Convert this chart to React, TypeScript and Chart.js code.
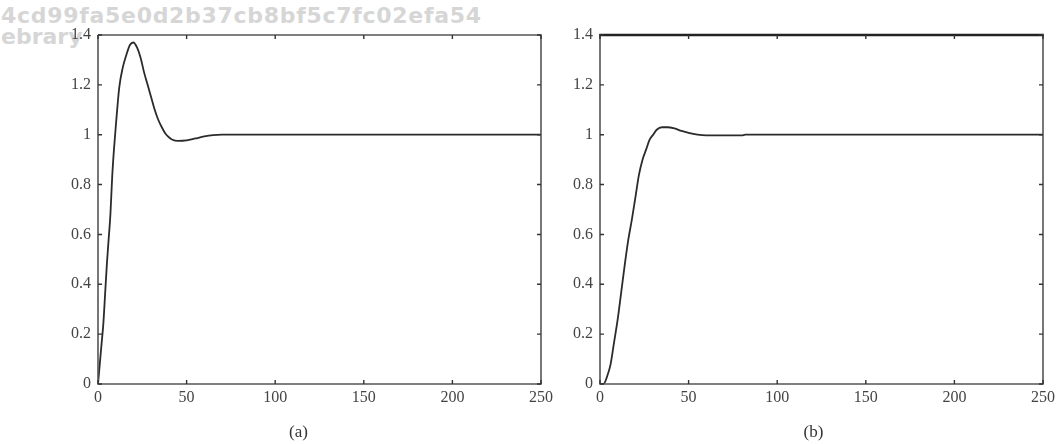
import React, { useEffect, useRef } from "react";
import { Chart, registerables } from "chart.js";

Chart.register(...registerables);

// ---- Data ----
const tA = [0, 1, 2, 3, 4, 5, 6, 7, 8, 9, 10, 12, 14, 16, 18, 20, 22, 24, 26, 28, 30, 32, 34, 36, 38, 40, 42, 45, 50, 55, 60, 65, 70, 250];
const yA = [0, 0.08, 0.16, 0.24, 0.36, 0.48, 0.58, 0.68, 0.83, 0.94, 1.03, 1.19, 1.27, 1.32, 1.36, 1.37, 1.35, 1.31, 1.25, 1.2, 1.15, 1.1, 1.06, 1.03, 1.005, 0.99, 0.98, 0.975, 0.977, 0.985, 0.993, 0.998, 1.0, 1.0];

const tB = [0, 2, 4, 6, 8, 10, 12, 14, 16, 18, 20, 22, 24, 26, 28, 30, 32, 35, 38, 42, 46, 50, 55, 60, 70, 80, 82, 250];
const yB = [0, 0, 0.03, 0.08, 0.17, 0.26, 0.37, 0.48, 0.58, 0.66, 0.75, 0.84, 0.9, 0.94, 0.98, 1.0, 1.02, 1.03, 1.03, 1.025, 1.015, 1.007, 1.0, 0.997, 0.997, 0.997, 1.0, 1.0];

const xTicks = [0, 50, 100, 150, 200, 250];
const xTickLabels = ["0", "50", "100", "150", "200", "250"];
const yTicks = [0, 0.2, 0.4, 0.6, 0.8, 1, 1.2, 1.4];
const yTickLabels = ["0", "0.2", "0.4", "0.6", "0.8", "1", "1.2", "1.4"];

const captions = ["(a)", "(b)"];
const watermark = ["4cd99fa5e0d2b37cb8bf5c7fc02efa54", "ebrary"];

const SERIF = '"Liberation Serif", "Times New Roman", serif';

type PanelProps = {
  t: number[];
  y: number[];
  caption: string;
  captionShift: number;
  left: number;
  width: number;
  axisWidth: number;
  rightPad: number;
  thickTop: boolean;
};

function Panel({ t, y, caption, captionShift, left, width, axisWidth, rightPad, thickTop }: PanelProps) {
  const ref = useRef<HTMLCanvasElement | null>(null);
  useEffect(() => {
    if (!ref.current) return;
    const boxPlugin = {
      id: "boxTicks",
      afterDraw(chart: any) {
        const { ctx, chartArea } = chart;
        const { left: l, right: r, top: tp, bottom: b } = chartArea;
        const xs = chart.scales.x;
        const ys = chart.scales.y;
        ctx.save();
        ctx.strokeStyle = "#555";
        ctx.lineWidth = 1.6;
        ctx.beginPath();
        ctx.moveTo(l, tp);
        ctx.lineTo(l, b);
        ctx.lineTo(r, b);
        ctx.lineTo(r, tp);
        if (!thickTop) ctx.lineTo(l, tp);
        ctx.stroke();
        if (thickTop) {
          ctx.strokeStyle = "#222";
          ctx.lineWidth = 2.6;
          ctx.beginPath();
          ctx.moveTo(l - 0.8, tp);
          ctx.lineTo(r + 0.8, tp);
          ctx.stroke();
        }
        ctx.strokeStyle = "#333";
        ctx.lineWidth = 1.4;
        const tl = 4;
        ctx.beginPath();
        xTicks.forEach((v) => {
          const px = xs.getPixelForValue(v);
          ctx.moveTo(px, b);
          ctx.lineTo(px, b - tl);
          ctx.moveTo(px, tp);
          ctx.lineTo(px, tp + tl);
        });
        yTicks.forEach((v) => {
          const py = ys.getPixelForValue(v);
          ctx.moveTo(l, py);
          ctx.lineTo(l + tl, py);
          ctx.moveTo(r, py);
          ctx.lineTo(r - tl, py);
        });
        ctx.stroke();
        ctx.fillStyle = "#333";
        ctx.font = `17px ${SERIF}`;
        ctx.textAlign = "center";
        ctx.textBaseline = "middle";
        ctx.fillText(caption, (l + r) / 2 + captionShift, 433);
        ctx.restore();
      },
    };
    const chart = new Chart(ref.current, {
      type: "line",
      data: {
        datasets: [
          {
            data: t.map((v, i) => ({ x: v, y: y[i] })),
            borderColor: "#2b2b2b",
            borderWidth: 1.8,
            pointRadius: 0,
            cubicInterpolationMode: "monotone",
            fill: false,
          },
        ],
      },
      options: {
        responsive: false,
        animation: false,
        layout: { padding: { top: 35, right: rightPad, left: 0, bottom: 0 } },
        plugins: { legend: { display: false }, tooltip: { enabled: false }, title: { display: false } },
        scales: {
          x: {
            type: "linear",
            min: 0,
            max: 250,
            grid: { display: false, drawTicks: false },
            border: { display: false },
            afterBuildTicks: (s: any) => {
              s.ticks = xTicks.map((v) => ({ value: v }));
            },
            afterFit: (s: any) => {
              s.height = 60;
            },
            ticks: {
              padding: 4,
              color: "#444",
              font: { family: SERIF, size: 16 },
              maxRotation: 0,
              autoSkip: false,
              callback: (_v: any, i: number) => xTickLabels[i],
            },
          },
          y: {
            type: "linear",
            min: 0,
            max: 1.4,
            grid: { display: false, drawTicks: false },
            border: { display: false },
            afterBuildTicks: (s: any) => {
              s.ticks = yTicks.map((v) => ({ value: v }));
            },
            afterFit: (s: any) => {
              s.width = axisWidth;
            },
            ticks: {
              padding: 7,
              color: "#444",
              font: { family: SERIF, size: 16 },
              autoSkip: false,
              callback: (_v: any, i: number) => yTickLabels[i],
            },
          },
        },
      } as any,
      plugins: [boxPlugin],
    });
    return () => chart.destroy();
  }, []);
  return (
    <canvas
      ref={ref}
      width={width}
      height={444}
      style={{ position: "absolute", left, top: 0, width, height: 444 }}
    />
  );
}

export default function App() {
  return (
    <div style={{ position: "absolute", left: 0, top: 0, width: 1061, height: 444, background: "#fff", overflow: "hidden" }}>
      <div
        style={{
          position: "absolute",
          left: 1,
          top: 5,
          fontFamily: '"DejaVu Sans", sans-serif',
          fontWeight: "bold",
          fontSize: 22,
          lineHeight: "21px",
          color: "#d6d6d6",
          whiteSpace: "pre",
        }}
      >
        <div style={{ letterSpacing: "0.7px" }}>{watermark[0]}</div>
        <div>{watermark[1]}</div>
      </div>
      <Panel t={tA} y={yA} caption={captions[0]} captionShift={-21} left={0} width={560} axisWidth={98} rightPad={19} thickTop={false} />
      <Panel t={tB} y={yB} caption={captions[1]} captionShift={-8} left={500} width={561} axisWidth={100} rightPad={18} thickTop={true} />
    </div>
  );
}
